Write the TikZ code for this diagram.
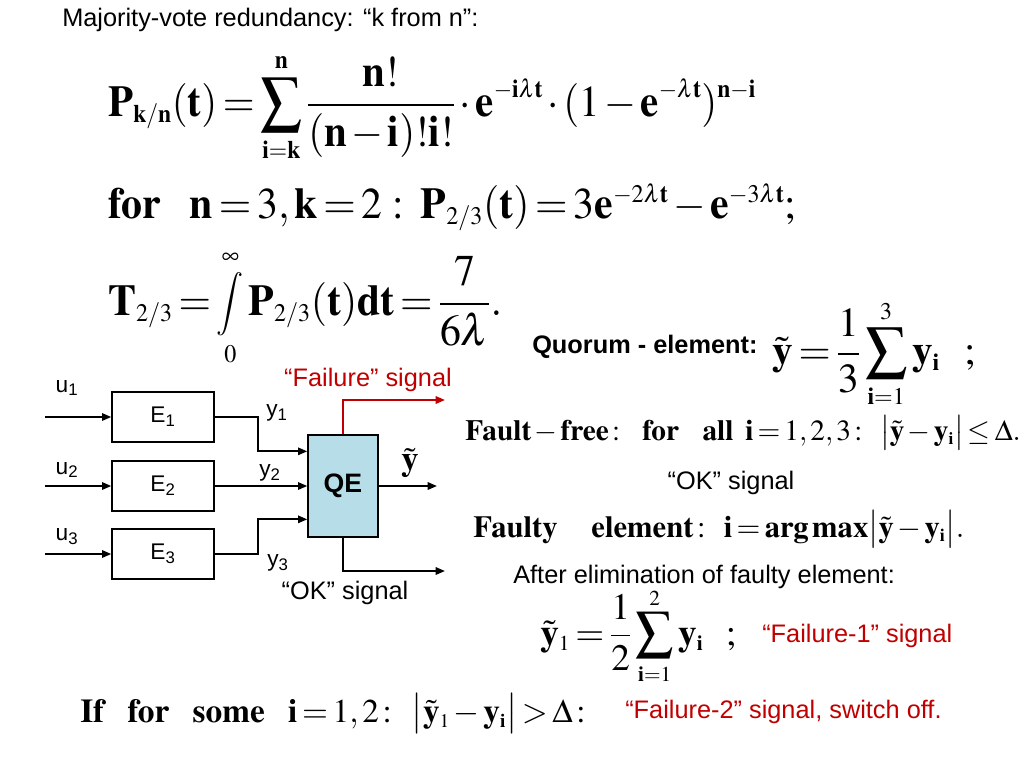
\documentclass[tikz,border=0pt]{standalone}
\usepackage{mathptmx}
\usepackage{amsmath}
\usepackage{graphicx}
\usepackage[no-math]{fontspec}
\setmainfont{Liberation Serif}
\setsansfont{Liberation Sans}
\usetikzlibrary{arrows.meta,positioning}
\definecolor{failred}{HTML}{C00000}
\definecolor{qeblue}{HTML}{B7DEE8}
\newcommand{\bv}[1]{\mathbf{#1}}
\newcommand{\midint}{\mathop{\vcenter{\hbox{\scalebox{0.72}{$\displaystyle\int$}}}}\limits}
\DeclareMathSizes{33}{33}{19}{15}
\DeclareMathSizes{31}{31}{18}{14}
\DeclareMathSizes{28}{28}{16}{12}
\DeclareMathSizes{26}{26}{15}{11}
\DeclareMathSizes{25}{25}{14.5}{11}
\DeclareMathSizes{23}{23}{13.5}{10}
\DeclareMathSizes{22}{22}{13}{10}
\thickmuskip=2.5mu plus 2mu
\medmuskip=2mu plus 1mu
\tikzset{
  wire/.style={line width=1.5pt},
  elem/.style={draw, line width=1.5pt, minimum width=76pt, minimum height=38pt, inner sep=0pt, font=\sffamily\fontsize{17}{19}\selectfont},
  lbl/.style={font=\sffamily\fontsize{19}{21}\selectfont, inner sep=0pt},
  dlbl/.style={font=\sffamily\fontsize{17}{19}\selectfont, inner sep=0pt},
  big/.style={font=\fontsize{33}{38}\selectfont, inner sep=0pt, anchor=base west},
  mid/.style={font=\fontsize{22}{26}\selectfont, inner sep=0pt, anchor=base west}
}
\begin{document}
\begin{tikzpicture}[x=0.75pt, y=-0.75pt, >={Triangle[length=7pt,width=5.5pt]}]
  \useasboundingbox (0,0) rectangle (1024,768);
  % heading and formulas
  \node[lbl, anchor=west] (title) at (62,20) {Majority-vote redundancy: “k from n”:};
  \node[big] (pkn) at (108,116) {\scalebox{0.93}[1]{$\displaystyle \bv{P}_{\bv{k/n}}(\bv{t}) = \sum_{\bv{i=k}}^{\bv{n}} \frac{\bv{n!}}{(\bv{n}-\bv{i})\bv{!}\bv{i!}} \cdot \bv{e}^{-\bv{i}\lambda\bv{t}} \cdot (1-\bv{e}^{-\lambda\bv{t}})^{\bv{n}-\bv{i}}$}};
  \node[big] (p23) at (108,218) {\scalebox{0.95}[1]{$\bv{for}\hspace{0.7em}\bv{n}=3,\bv{k}=2\,:\ \bv{P}_{2/3}(\bv{t}) = 3\bv{e}^{-2\lambda\bv{t}} - \bv{e}^{-3\lambda\bv{t}}\bv{;}$}};
  \node[big] (t23) at (108,315) {\scalebox{0.95}[1]{$\displaystyle \bv{T}_{2/3} = \midint_0^\infty \bv{P}_{2/3}(\bv{t})\bv{dt} = \frac{7}{6\lambda}.$}};
  \node[lbl, anchor=west, font=\sffamily\bfseries\fontsize{19}{21}\selectfont] (quorum) at (532,347) {Quorum - element:};
  \node[mid, font=\fontsize{31}{34}\selectfont] (ytil) at (772,364) {$\displaystyle \tilde{\bv{y}} = \frac{1}{3}\sum_{\bv{i}=1}^{3}\bv{y}_{\bv{i}}\hspace{0.6em}\bv{;}$};
  \node[mid] (free) at (465,440) {$\bv{Fault}\,{-}\,\bv{free}\,{:}\hspace{0.75em}\bv{for}\hspace{0.8em}\bv{all}\hspace{0.4em}\bv{i}=1,2,3\,{:}\hspace{0.6em}\bigl|\tilde{\bv{y}}-\bv{y}_{\bv{i}}\bigr|\le\Delta.$};
  \node[lbl] (okb) at (731,483) {“OK” signal};
  \node[mid, font=\fontsize{23}{26}\selectfont] (faulty) at (473,537) {$\bv{Faulty}\hspace{1.1em}\bv{element}\,{:}\hspace{0.6em}\bv{i}=\bv{arg\,max}\bigl|\tilde{\bv{y}}-\bv{y}_{\bv{i}}\bigr|.$};
  \node[lbl, anchor=west] (after) at (513,577) {After elimination of faulty element:};
  \node[mid, font=\fontsize{28}{30}\selectfont] (ytil1) at (540,645) {$\displaystyle \tilde{\bv{y}}_1 = \frac{1}{2}\sum_{\bv{i}=1}^{2}\bv{y}_{\bv{i}}\hspace{0.6em}\bv{;}$};
  \node[lbl, anchor=west, text=failred] (fail1) at (762,636) {“Failure-1” signal};
  \node[mid, font=\fontsize{25}{28}\selectfont] (iff) at (80,722) {$\bv{If}\hspace{0.7em}\bv{for}\hspace{0.7em}\bv{some}\hspace{0.7em}\bv{i}=1,2\,{:}\hspace{0.6em}\bigl|\tilde{\bv{y}}_1-\bv{y}_{\bv{i}}\bigr|>\Delta\,{:}$};
  \node[lbl, anchor=west, text=failred] (fail2) at (625,712) {“Failure-2” signal, switch off.};
  % block diagram
  \node[elem] (E1) at (163,417) {E\textsubscript{1}};
  \node[elem] (E2) at (163,486) {E\textsubscript{2}};
  \node[elem] (E3) at (163,554) {E\textsubscript{3}};
  \node[draw, line width=1.5pt, fill=qeblue, minimum width=52pt, minimum height=77pt, inner sep=0pt,
        font=\sffamily\bfseries\fontsize{20}{22}\selectfont] (QE) at (343,486) {QE};
  \coordinate (in1) at (45,417);
  \coordinate (in2) at (45,486);
  \coordinate (in3) at (45,554);
  \coordinate (out) at (437,486);
  \coordinate (fail) at (445,400);
  \coordinate (ok) at (445,571);
  \foreach \k in {1,2,3}
    \draw[wire,->] (in\k) -- (E\k);
  \draw[wire,->] (E1.east) -- ++(43,0) |- ([yshift=26pt]QE.west);
  \draw[wire,->] (E2) -- (QE);
  \draw[wire,->] (E3.east) -- ++(43,0) |- ([yshift=-25pt]QE.west);
  \draw[wire,->] (QE) -- (out);
  \draw[wire,->,failred] (QE.north) |- (fail);
  \draw[wire,->] (QE.south) |- (ok);
  % labels
  \node[dlbl] (u1) at (67,388) {u\textsubscript{1}};
  \node[dlbl] (u2) at (67,470) {u\textsubscript{2}};
  \node[dlbl] (u3) at (67,537) {u\textsubscript{3}};
  \node[dlbl] (y1) at (277,413) {y\textsubscript{1}};
  \node[dlbl] (y2) at (270,473) {y\textsubscript{2}};
  \node[dlbl] (y3) at (278,563) {y\textsubscript{3}};
  \node[font=\fontsize{26}{30}\selectfont, inner sep=0pt] (yout) at (410,463) {$\tilde{\bv{y}}$};
  \node[lbl, text=failred] (failtxt) at (368,380) {“Failure” signal};
  \node[lbl] (oktxt) at (345,593) {“OK” signal};
\end{tikzpicture}
\end{document}
